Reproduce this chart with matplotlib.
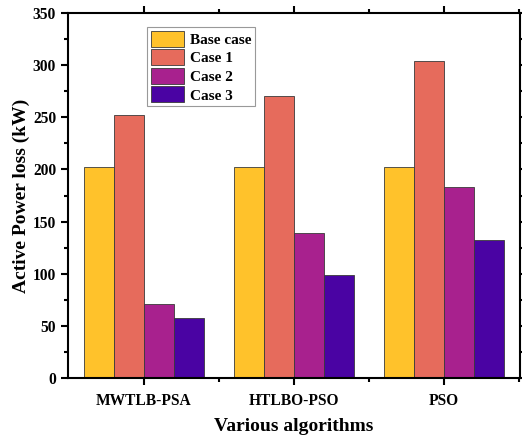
import numpy as np
import matplotlib
matplotlib.use('Agg')
import matplotlib.pyplot as plt
from matplotlib.ticker import MultipleLocator, FixedLocator

plt.rcParams['font.family'] = 'Liberation Serif'
plt.rcParams['font.weight'] = 'bold'

algorithms = ['MWTLB-PSA', 'HTLBO-PSO', 'PSO']
cases = ['Base case', 'Case 1', 'Case 2', 'Case 3']
base_case = [202.5, 202.5, 202.5]
case1 = [252.7, 270.8, 304.3]
case2 = [71.0, 139.2, 182.8]
case3 = [57.5, 98.9, 132.6]
colors = ['#FFC22B', '#E66B5C', '#A8218E', '#4A03A3']

fig = plt.figure(figsize=(5.22, 4.36), dpi=100)
ax = fig.add_axes([0.130, 0.133, 0.866, 0.837])

x = np.arange(len(algorithms))
w = 0.2
series = [base_case, case1, case2, case3]
for i, (vals, lab, c) in enumerate(zip(series, cases, colors)):
    ax.bar(x + (i - 1.5) * w, vals, w, label=lab, color=c,
           edgecolor='#3a3a3a', linewidth=0.6)

ax.set_xlim(-0.507, 2.507)
ax.set_ylim(0, 350)
ax.set_xticks(x)
ax.set_xticklabels(algorithms)
ax.xaxis.set_minor_locator(FixedLocator([0.5, 1.5, 2.5]))
ax.yaxis.set_major_locator(MultipleLocator(50))
ax.yaxis.set_minor_locator(MultipleLocator(25))

for s in ax.spines.values():
    s.set_linewidth(1.5)
ax.tick_params(which='both', direction='out', top=True, right=True, width=1.5)
ax.tick_params(which='major', length=5, labelsize=11.2)
ax.tick_params(which='minor', length=3)
ax.tick_params(axis='x', pad=6)

ax.set_xlabel('Various algorithms', fontsize=14, fontweight='bold', labelpad=6)
ax.set_ylabel('Active Power loss (kW)', fontsize=14, fontweight='bold', labelpad=2)

leg = ax.legend(loc='upper left', bbox_to_anchor=(0.175, 0.962), fontsize=11,
                fancybox=False, edgecolor='#999999', framealpha=1,
                handlelength=2.2, handleheight=1.25, handletextpad=0.35,
                labelspacing=0.15, borderpad=0.25, borderaxespad=0)
leg.get_frame().set_linewidth(0.8)

plt.savefig('out.png', dpi=100)
